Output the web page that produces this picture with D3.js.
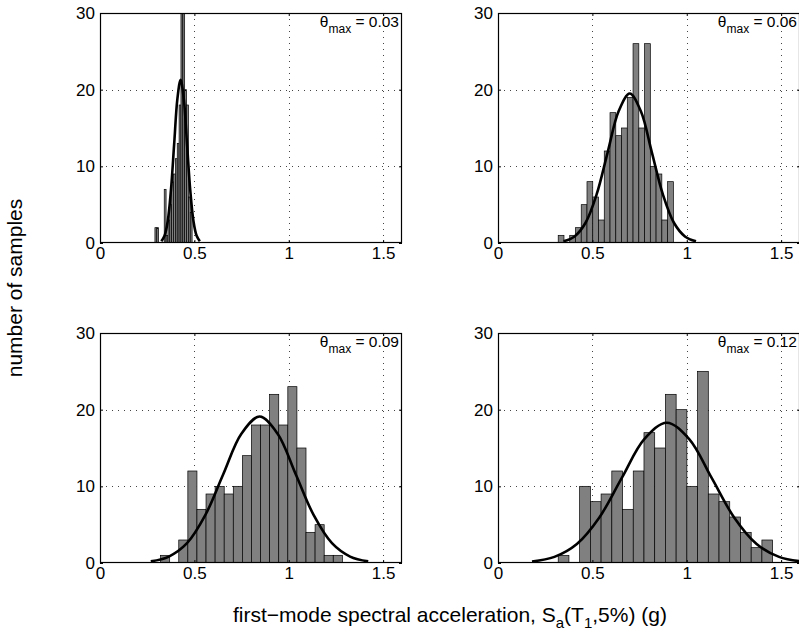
<!DOCTYPE html>
<html>
<head>
<meta charset="utf-8">
<script src="https://cdn.jsdelivr.net/npm/d3@7"></script>
<style>
  body { margin: 0; background: #fff; }
  svg text { font-family: "Liberation Sans", Arial, Helvetica, sans-serif; fill: #000; }
</style>
</head>
<body>
<div id="chart"></div>
<script>
// ---- data ----
const thetaMax = ["0.03", "0.06", "0.09", "0.12"];
const xTicks = [0, 0.5, 1, 1.5];
const yTicks = [0, 10, 20, 30];

// histogram bins: lower edge of first bin and bin width (in g), 20 bins each
const binStart = [0.291, 0.319, 0.321, 0.319];
const binWidth = [0.00985, 0.0305, 0.04815, 0.0568];

const counts003 = [2, 2, 0, 0, 0, 7, 1, 3, 5, 8, 9, 11, 13, 18, 35, 38, 20, 18, 6, 4];
const counts006 = [1, 0, 1, 2, 5, 8, 6, 3, 12, 17, 14, 15, 19, 26, 15, 26, 10, 9, 3, 8];
const counts009 = [1, 0, 3, 12, 7, 9, 10, 9, 10, 14, 18, 18, 22, 18, 23, 15, 4, 5, 1, 1];
const counts012 = [1, 0, 10, 8, 9, 12, 7, 12, 17, 15, 22, 20, 10, 25, 9, 8, 6, 4, 2, 3];

// fitted curve, points
const fitX003 = [0.325, 0.342, 0.359, 0.376, 0.393, 0.410, 0.427, 0.444, 0.461, 0.478, 0.495, 0.512, 0.529];
const fitY003 = [0.24, 0.94, 2.88, 6.92, 12.92, 18.80, 21.3, 18.80, 12.92, 6.92, 2.88, 0.94, 0.24];
const fitX006 = [0.347, 0.4055, 0.464, 0.5225, 0.581, 0.6395, 0.698, 0.7565, 0.815, 0.8735, 0.932, 0.9905, 1.049];
const fitY006 = [0.22, 0.86, 2.64, 6.33, 11.83, 17.21, 19.5, 17.21, 11.83, 6.33, 2.64, 0.86, 0.22];
const fitX009 = [0.269, 0.365, 0.461, 0.557, 0.653, 0.749, 0.845, 0.941, 1.037, 1.133, 1.229, 1.325, 1.421];
const fitY009 = [0.21, 0.84, 2.58, 6.20, 11.58, 16.86, 19.1, 16.86, 11.58, 6.20, 2.58, 0.84, 0.21];
const fitX012 = [0.180, 0.299, 0.418, 0.537, 0.656, 0.775, 0.894, 1.013, 1.132, 1.251, 1.370, 1.489, 1.608];
const fitY012 = [0.20, 0.80, 2.48, 5.94, 11.10, 16.15, 18.3, 16.15, 11.10, 5.94, 2.48, 0.80, 0.20];

const panelCounts = [counts003, counts006, counts009, counts012];
const panelFitX = [fitX003, fitX006, fitX009, fitX012];
const panelFitY = [fitY003, fitY006, fitY009, fitY012];

// ---- layout ----
const width = 799, height = 639;
const panelW = 302, panelH = 230;
const colX = [100, 498];
const rowY = [13, 333];

const svg = d3.select("#chart").append("svg")
  .attr("width", width)
  .attr("height", height);

const x = d3.scaleLinear().domain([0, 1.6]).range([0, panelW]);
const y = d3.scaleLinear().domain([0, 30]).range([panelH, 0]);

const line = d3.line()
  .x(d => x(d[0]))
  .y(d => y(d[1]))
  .curve(d3.curveCatmullRom);

thetaMax.forEach(function (label, i) {
  const px = colX[i % 2], py = rowY[Math.floor(i / 2)];
  const g = svg.append("g").attr("transform", `translate(${px},${py})`);

  // clip for bars / curve running past the box
  g.append("clipPath").attr("id", "clip" + i)
    .append("rect").attr("width", panelW).attr("height", panelH);

  // dotted grid
  const grid = g.append("g")
    .attr("stroke", "#444")
    .attr("stroke-width", 1)
    .attr("stroke-dasharray", "1,5");
  grid.selectAll(".gx").data(xTicks.filter(t => t > 0))
    .enter().append("line")
    .attr("x1", d => Math.round(x(d)) + 0.5).attr("x2", d => Math.round(x(d)) + 0.5)
    .attr("y1", 0).attr("y2", panelH);
  grid.selectAll(".gy").data(yTicks.filter(t => t > 0 && t < 30))
    .enter().append("line")
    .attr("y1", d => Math.round(y(d)) + 0.5).attr("y2", d => Math.round(y(d)) + 0.5)
    .attr("x1", 0).attr("x2", panelW);

  const plot = g.append("g").attr("clip-path", `url(#clip${i})`);

  // histogram bars
  const bins = panelCounts[i].map((c, k) => ({
    x0: binStart[i] + k * binWidth[i],
    x1: binStart[i] + (k + 1) * binWidth[i],
    n: c
  }));
  plot.selectAll(".bar").data(bins.filter(b => b.n > 0))
    .enter().append("rect")
    .attr("class", "bar")
    .attr("x", d => x(d.x0))
    .attr("width", d => x(d.x1) - x(d.x0))
    .attr("y", d => y(d.n))
    .attr("height", d => y(0) - y(d.n))
    .attr("fill", "#808080")
    .attr("stroke", "#000")
    .attr("stroke-width", 0.7);

  // fitted curve
  const pts = panelFitX[i].map((v, k) => [v, panelFitY[i][k]]);
  plot.append("path")
    .datum(pts)
    .attr("fill", "none")
    .attr("stroke", "#000")
    .attr("stroke-width", 2.6)
    .attr("d", line);

  // axes, ticks pointing inward
  const fmt = d => String(d);
  g.append("g").attr("transform", `translate(0,${panelH})`)
    .call(d3.axisBottom(x).tickValues(xTicks).tickSize(-3).tickPadding(4).tickFormat(fmt));
  g.append("g")
    .call(d3.axisLeft(y).tickValues(yTicks).tickSize(-3).tickPadding(5).tickFormat(fmt));
  g.append("g")
    .call(d3.axisTop(x).tickValues(xTicks).tickSize(-3).tickFormat(""));
  g.append("g").attr("transform", `translate(${panelW},0)`)
    .call(d3.axisRight(y).tickValues(yTicks).tickSize(-3).tickFormat(""));
  g.selectAll(".tick text").attr("font-size", 17)
    .attr("font-family", '"Liberation Sans", Arial, sans-serif');
  g.selectAll(".domain").remove();

  // box
  g.append("rect")
    .attr("x", 0.5).attr("y", 0.5)
    .attr("width", panelW - 1).attr("height", panelH - 1)
    .attr("fill", "none").attr("stroke", "#000").attr("stroke-width", 1.2);

  // theta_max label
  const t = g.append("text")
    .attr("x", panelW - 3).attr("y", 14)
    .attr("text-anchor", "end")
    .attr("font-size", 15.5);
  t.append("tspan").text("θ");
  t.append("tspan").attr("dy", 6).attr("font-size", 12).text("max");
  t.append("tspan").attr("dy", -6).text(" = " + label);
});

// shared axis titles
svg.append("text")
  .attr("transform", "translate(22,288) rotate(-90)")
  .attr("text-anchor", "middle")
  .attr("font-size", 21)
  .text("number of samples");

const xl = svg.append("text")
  .attr("x", 450).attr("y", 622)
  .attr("text-anchor", "middle")
  .attr("font-size", 21);
xl.append("tspan").text("first\u2212mode spectral acceleration, S");
xl.append("tspan").attr("dy", 6).attr("font-size", 15).text("a");
xl.append("tspan").attr("dy", -6).text("(T");
xl.append("tspan").attr("dy", 6).attr("font-size", 15).text("1");
xl.append("tspan").attr("dy", -6).text(",5%) (g)");
</script>
</body>
</html>
